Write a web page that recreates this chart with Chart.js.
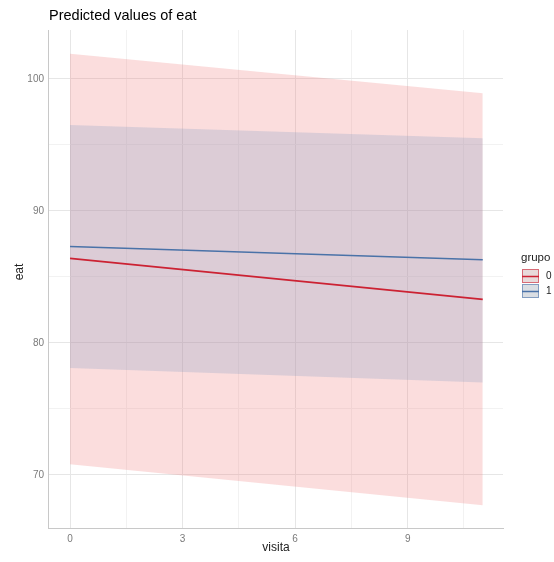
<!DOCTYPE html>
<html>
<head>
<meta charset="utf-8">
<script src="https://cdn.jsdelivr.net/npm/chart.js@4"></script>
<style>
  html, body { margin: 0; padding: 0; background: #fff; }
  #wrap { width: 554px; height: 562px; }
</style>
</head>
<body>
<div id="wrap"><canvas id="c" width="554" height="562"></canvas></div>
<script>
// values (linear fit, so endpoints only)
const visita = [0, 11];
const eat0 = [86.4, 83.3];
const lo0 = [70.8, 67.7];
const hi0 = [101.9, 98.9];
const eat1 = [87.3, 86.3];
const lo1 = [78.1, 77.0];
const hi1 = [96.5, 95.5];
const grupos = ['0', '1'];

const RED = '#cc2233';
const BLUE = '#4a72a8';
const FONT = '"Liberation Sans", Arial, sans-serif';

const pts = arr => arr.map((v, i) => ({ x: visita[i], y: v }));

const band = (data, fillColor, order) => ({
  data: pts(data),
  borderWidth: 0,
  pointRadius: 0,
  borderColor: 'rgba(0,0,0,0)',
  backgroundColor: fillColor,
  order: order
});

// title, axis titles and legend
const extras = {
  id: 'extras',
  afterDraw(chart) {
    const ctx = chart.ctx;
    ctx.save();
    ctx.fillStyle = '#000';
    ctx.font = '14.5px ' + FONT;
    ctx.textBaseline = 'middle';
    ctx.fillText('Predicted values of eat', 49, 16);

    ctx.fillStyle = '#222';
    ctx.font = '12px ' + FONT;
    ctx.textAlign = 'center';
    ctx.fillText('visita', 276, 548);
    ctx.save();
    ctx.translate(20, 272);
    ctx.rotate(-Math.PI / 2);
    ctx.fillText('eat', 0, 0);
    ctx.restore();

    // legend
    ctx.textAlign = 'left';
    ctx.font = '11.5px ' + FONT;
    ctx.fillText('grupo', 521, 258);
    const cols = [RED, BLUE];
    grupos.forEach((g, i) => {
      const y0 = 269 + i * 15;
      ctx.fillStyle = '#e8e8e8';
      ctx.fillRect(522, y0, 17, 14);
      ctx.fillStyle = i === 0 ? 'rgba(241,120,120,0.12)' : 'rgba(127,157,197,0.12)';
      ctx.fillRect(522, y0, 17, 14);
      ctx.strokeStyle = cols[i];
      ctx.lineWidth = 1;
      ctx.globalAlpha = 0.6;
      ctx.strokeRect(522.5, y0 + 0.5, 16, 13);
      ctx.globalAlpha = 1;
      ctx.beginPath();
      ctx.moveTo(522, y0 + 7.5);
      ctx.lineTo(539, y0 + 7.5);
      ctx.lineWidth = 1.5;
      ctx.stroke();
      ctx.fillStyle = '#222';
      ctx.font = '10px ' + FONT;
      ctx.fillText(g, 546, y0 + 7.5);
    });
    ctx.restore();
  }
};

new Chart(document.getElementById('c'), {
  type: 'line',
  data: {
    datasets: [
      { data: pts(eat0), borderColor: RED, borderWidth: 1.6, pointRadius: 0, fill: false, order: 0 },
      { data: pts(eat1), borderColor: BLUE, borderWidth: 1.6, pointRadius: 0, fill: false, order: 0 },
      Object.assign(band(lo0, 'rgba(0,0,0,0)', 3), { fill: false }),
      Object.assign(band(hi0, 'rgba(241,120,120,0.25)', 3), { fill: '-1' }),
      Object.assign(band(lo1, 'rgba(0,0,0,0)', 2), { fill: false }),
      Object.assign(band(hi1, 'rgba(127,157,197,0.25)', 2), { fill: '-1' })
    ]
  },
  options: {
    responsive: false,
    animation: false,
    layout: { padding: { top: 30, right: 51, left: 0, bottom: 0 } },
    plugins: { legend: { display: false }, tooltip: { enabled: false }, title: { display: false } },
    scales: {
      x: {
        type: 'linear',
        min: -0.587,
        max: 11.54,
        afterFit: s => { s.height = 34; },
        border: { display: true, color: '#c8c8c8', width: 1 },
        grid: {
          drawTicks: false,
          color: c => (Math.abs(c.tick.value % 3) < 1e-6 ? '#e6e6e6' : '#f2f2f2'),
          lineWidth: 1
        },
        ticks: {
          stepSize: 1.5,
          includeBounds: false,
          autoSkip: false,
          maxRotation: 0,
          padding: 5,
          color: '#7a7a7a',
          font: { family: FONT, size: 10 },
          callback: v => (Math.abs(v % 3) < 1e-6 ? v : '')
        }
      },
      y: {
        min: 65.98,
        max: 103.7,
        afterFit: s => { s.width = 48; },
        border: { display: true, color: '#c8c8c8', width: 1 },
        grid: {
          drawTicks: false,
          color: c => (Math.abs(c.tick.value % 10) < 1e-6 ? '#e6e6e6' : '#f2f2f2'),
          lineWidth: 1
        },
        ticks: {
          stepSize: 5,
          includeBounds: false,
          autoSkip: false,
          padding: 4,
          color: '#7a7a7a',
          font: { family: FONT, size: 10 },
          callback: v => (Math.abs(v % 10) < 1e-6 ? v : '')
        }
      }
    }
  },
  plugins: [extras]
});
</script>
</body>
</html>
